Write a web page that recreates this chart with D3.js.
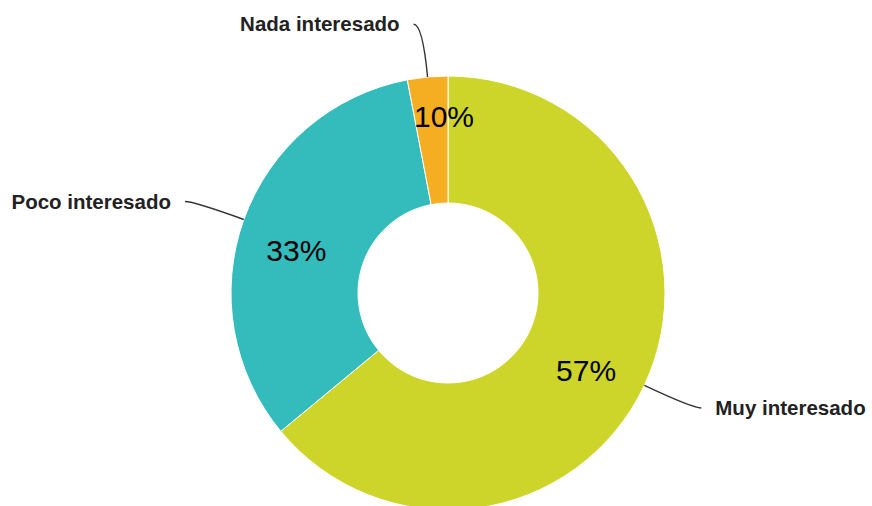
<!DOCTYPE html>
<html>
<head>
<meta charset="utf-8">
<script src="https://cdn.jsdelivr.net/npm/d3@7"></script>
<style>
  body { margin: 0; background: #fff; }
  svg { display: block; font-family: "Liberation Sans", Arial, sans-serif; }
</style>
</head>
<body>
<div id="chart"></div>
<script>
const width = 872;
const height = 506;

// slice data (slice sizes, labels as printed)
const categories = ['Muy interesado', 'Poco interesado', 'Nada interesado'];
const values = [64, 33, 3];
const pctLabels = ['57%', '33%', '10%'];
const colors = ['#cdd52b', '#34bbbc', '#f5ae22'];

const cx = 448, cy = 293;
const outerR = 217, innerR = 90;

const data = categories.map((c, i) => ({ name: c, value: values[i], label: pctLabels[i], color: colors[i] }));

const pie = d3.pie().sort(null).value(d => d.value);
const arcs = pie(data);

const arc = d3.arc().innerRadius(innerR).outerRadius(outerR);

const svg = d3.select('#chart').append('svg')
    .attr('width', width)
    .attr('height', height);

const g = svg.append('g').attr('transform', `translate(${cx}, ${cy})`);

g.selectAll('path.slice')
    .data(arcs)
    .enter()
    .append('path')
    .attr('class', 'slice')
    .attr('d', arc)
    .attr('fill', d => d.data.color)
    .attr('stroke', '#fff')
    .attr('stroke-width', 1);

// percentage text inside the ring (narrow slices: near outer edge, at the slice end)
const pctPos = d => {
    const narrow = d.endAngle - d.startAngle < 0.4;
    const a = narrow ? d.endAngle : (d.startAngle + d.endAngle) / 2;
    const r = narrow ? outerR - 29 : 157;
    return [Math.sin(a) * r - 4, -Math.cos(a) * r];
};

g.selectAll('text.pct')
    .data(arcs)
    .enter()
    .append('text')
    .attr('class', 'pct')
    .attr('x', d => pctPos(d)[0])
    .attr('y', d => pctPos(d)[1])
    .attr('dy', '0.72em')
    .attr('text-anchor', 'middle')
    .style('font-size', '30px')
    .style('fill', '#000')
    .text(d => d.data.label);

// leader lines + outside labels
const leader = d => {
    const a = (d.startAngle + d.endAngle) / 2;
    const dx = Math.sin(a), dy = -Math.cos(a);
    const side = dx >= 0 ? 1 : -1;
    const edge = [dx * outerR, dy * outerR];
    const ctrl = [dx * (outerR + 53), dy * (outerR + 53)];
    const end = [ctrl[0] + side * 9, ctrl[1]];
    return { edge, ctrl, end, side };
};

g.selectAll('path.leader')
    .data(arcs)
    .enter()
    .append('path')
    .attr('class', 'leader')
    .attr('d', d => {
        const l = leader(d);
        return `M${l.edge}Q${l.ctrl} ${l.end}`;
    })
    .attr('fill', 'none')
    .attr('stroke', '#333')
    .attr('stroke-width', 1.4);

g.selectAll('text.name')
    .data(arcs)
    .enter()
    .append('text')
    .attr('class', 'name')
    .attr('x', d => { const l = leader(d); return l.end[0] + l.side * 14; })
    .attr('y', d => leader(d).end[1])
    .attr('dy', '0.35em')
    .attr('text-anchor', d => leader(d).side > 0 ? 'start' : 'end')
    .style('font-size', '20.5px')
    .style('font-weight', 'bold')
    .style('fill', '#222')
    .text(d => d.data.name);
</script>
</body>
</html>
